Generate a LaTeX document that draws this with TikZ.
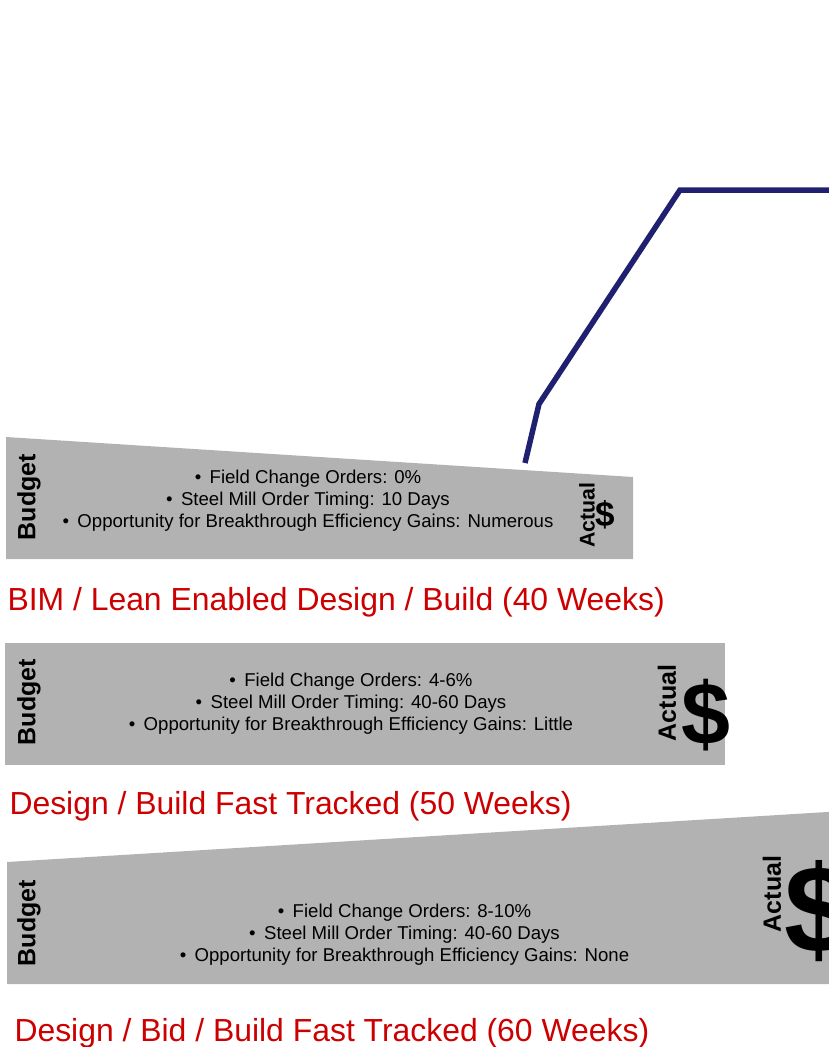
\documentclass[tikz,border=0pt]{standalone}
\usepackage{fontspec}
\setmainfont{Liberation Sans}
\usetikzlibrary{positioning}
\definecolor{bargray}{RGB}{178,178,178}
\definecolor{titlered}{RGB}{204,0,0}
\definecolor{pathnavy}{RGB}{32,32,112}

\begin{document}
\begin{tikzpicture}[x=1pt,y=-1pt,
  every node/.style={inner sep=0pt,outer sep=0pt},
  facts/.style={font=\fontsize{18.6}{22}\selectfont,align=center},
  vlabel/.style={rotate=90,font=\fontsize{25}{25}\selectfont\bfseries},
  money/.style={font=\fontsize{#1}{#1}\selectfont\bfseries},
  caption/.style={anchor=base west,text=titlered,font=\fontsize{31.9}{34}\selectfont}
]
  \clip (0,0) rectangle (829,1047);

  \draw[pathnavy,line width=5.5pt] (525,463) -- (539,404) -- (680,190) -- (860,190);

  \fill[bargray] (6,437) -- (633,477) -- (633,559) -- (6,559) -- cycle;
  \node[vlabel] (budgetA) at (29,497) {Budget};
  \node[facts] (factsA) at (308,501) {•\hspace{0.45em}Field Change Orders: 0\%\\
    •\hspace{0.45em}Steel Mill Order Timing: 10 Days\\
    •\hspace{0.45em}Opportunity for Breakthrough Efficiency Gains: Numerous};
  \node[vlabel,font=\fontsize{21.3}{21.3}\selectfont\bfseries] (actualA) at (587,515) {Actual};
  \node[money=35] (dollarA) at (605,515) {\$};
  \node[caption] (titleA) at (7.5,610) {BIM / Lean Enabled Design / Build (40 Weeks)};

  \fill[bargray] (5,643) rectangle (725,765);
  \node[vlabel] (budgetB) at (29,702) {Budget};
  \node[facts] (factsB) at (351,704) {•\hspace{0.45em}Field Change Orders: 4-6\%\\
    •\hspace{0.45em}Steel Mill Order Timing: 40-60 Days\\
    •\hspace{0.45em}Opportunity for Breakthrough Efficiency Gains: Little};
  \node[vlabel] (actualB) at (667,703) {Actual};
  \node[money=88] (dollarB) at (706,715) {\$};
  \node[caption] (titleB) at (9.5,814) {Design / Build Fast Tracked (50 Weeks)};

  \fill[bargray] (7,862) -- (860,810) -- (860,984) -- (7,984) -- cycle;
  \node[vlabel] (budgetC) at (29,923) {Budget};
  \node[facts] (factsC) at (404.5,935) {•\hspace{0.45em}Field Change Orders: 8-10\%\\
    •\hspace{0.45em}Steel Mill Order Timing: 40-60 Days\\
    •\hspace{0.45em}Opportunity for Breakthrough Efficiency Gains: None};
  \node[vlabel] (actualC) at (772,894) {Actual};
  \node[money=124] (dollarC) at (819,911) {\$};
  \node[caption] (titleC) at (14.5,1041) {Design / Bid / Build Fast Tracked (60 Weeks)};
\end{tikzpicture}
\end{document}
